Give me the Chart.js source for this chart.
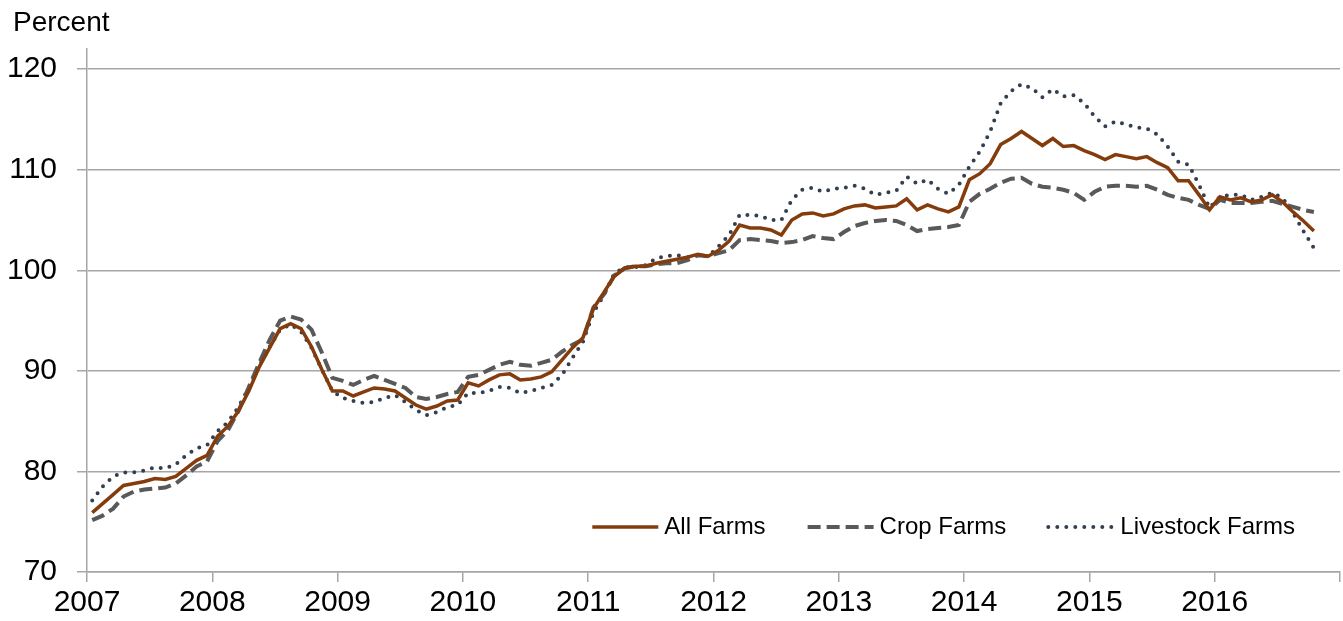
<!DOCTYPE html>
<html>
<head>
<meta charset="utf-8">
<script src="https://cdn.jsdelivr.net/npm/chart.js@4/dist/chart.umd.min.js"></script>
<style>
  html, body { margin: 0; padding: 0; background: #fff; }
  canvas { display: block; }
</style>
</head>
<body>
<canvas id="farmChart"></canvas>
<script>
// monthly series, Jan 2007 .. Oct 2016
const startYear = 2007;
const yearLabels = ['2007', '2008', '2009', '2010', '2011', '2012', '2013', '2014', '2015', '2016'];
const yTicks = [70, 80, 90, 100, 110, 120];
const seriesNames = ['All Farms', 'Crop Farms', 'Livestock Farms'];

const allFarms = [
    75.9, 76.8, 77.7, 78.6, 78.8, 79.0, 79.3, 79.2, 79.5, 80.3, 81.1, 81.6,
    83.5, 84.5, 86.0, 88.0, 90.4, 92.3, 94.2, 94.7, 94.2, 92.4, 90.1, 88.0,
    88.0, 87.5, 87.9, 88.3, 88.2, 88.0, 87.3, 86.6, 86.2, 86.5, 87.0, 87.1,
    88.8, 88.5, 89.1, 89.6, 89.7, 89.1, 89.2, 89.4, 89.9, 91.1, 92.3, 93.3,
    96.2, 97.8, 99.4, 100.2, 100.4, 100.4, 100.7, 100.9, 101.1, 101.3, 101.6, 101.4,
    102.0, 102.9, 104.5, 104.2, 104.2, 104.0, 103.5, 105.0, 105.6, 105.7, 105.4, 105.6,
    106.1, 106.4, 106.5, 106.2, 106.3, 106.4, 107.1, 106.0, 106.5, 106.1, 105.8, 106.3,
    109.0, 109.6, 110.6, 112.5, 113.1, 113.8, 113.1, 112.4, 113.1, 112.3, 112.4, 111.9,
    111.5, 111.0, 111.5, 111.3, 111.1, 111.3, 110.7, 110.2, 108.9, 108.9, 107.5, 106.0,
    107.3, 107.0, 107.2, 106.8, 107.0, 107.5, 106.8, 105.8, 104.9, 103.9
];

const cropFarms = [
    75.15, 75.6, 76.3, 77.5, 78.0, 78.2, 78.3, 78.4, 78.8, 79.6, 80.5, 81.0,
    83.0, 84.1, 86.0, 88.4, 90.8, 93.1, 95.0, 95.4, 95.1, 94.1, 91.8, 89.3,
    89.0, 88.6, 89.1, 89.5, 89.1, 88.7, 88.3, 87.4, 87.2, 87.4, 87.7, 87.9,
    89.4, 89.6, 90.1, 90.6, 90.9, 90.6, 90.5, 90.8, 91.1, 91.9, 92.6, 93.1,
    96.3, 97.6, 99.5, 100.2, 100.4, 100.4, 100.6, 100.7, 100.7, 101.0, 101.5, 101.4,
    101.7, 102.0, 103.0, 103.1, 103.0, 102.9, 102.7, 102.8, 103.0, 103.4, 103.2, 103.1,
    103.8, 104.4, 104.7, 104.9, 105.0, 104.9, 104.5, 103.9, 104.1, 104.2, 104.3, 104.5,
    106.8, 107.6, 108.1, 108.7, 109.1, 109.2, 108.6, 108.3, 108.2, 108.0, 107.7, 107.0,
    107.8, 108.3, 108.4, 108.4, 108.3, 108.4, 108.0, 107.5, 107.2, 107.0, 106.5, 106.1,
    107.0, 106.7, 106.7, 106.7, 106.8, 106.9, 106.6, 106.3, 106.0, 105.8
];

const livestockFarms = [
    77.1, 78.5, 79.5, 79.9, 79.9, 80.1, 80.4, 80.3, 80.7, 81.6, 82.3, 82.6,
    84.0, 84.9, 86.4, 88.3, 90.5, 92.4, 94.1, 94.6, 93.9, 92.3, 90.1, 88.0,
    87.3, 87.0, 86.8, 86.9, 87.3, 87.6, 86.9, 86.1, 85.6, 85.9, 86.4, 86.6,
    87.8, 87.8, 88.0, 88.4, 88.3, 87.8, 88.0, 88.3, 88.6, 89.6, 91.3, 92.9,
    95.8, 97.5, 99.7, 100.3, 100.3, 100.5, 101.2, 101.4, 101.5, 101.3, 101.5, 101.4,
    102.4, 103.5, 105.5, 105.5, 105.4, 105.0, 105.0, 107.0, 108.0, 108.2, 107.8, 108.1,
    108.2, 108.4, 108.1, 107.5, 107.7, 107.9, 109.3, 108.6, 109.0, 108.1, 107.6, 108.5,
    110.3, 111.8, 113.8, 116.6, 117.8, 118.5, 118.1, 117.2, 118.0, 117.3, 117.4, 116.6,
    115.3, 114.3, 114.8, 114.5, 114.2, 114.1, 113.5, 112.3, 110.8, 110.5, 108.5, 106.2,
    107.3, 107.5, 107.5, 107.0, 107.3, 107.7, 107.2, 105.7, 103.9, 102.2
];

const FONT = "'Liberation Sans', Arial, sans-serif";
const GRID = '#a6a6a6';

// month i sits in the middle of its month slot
function toPoints(values) {
    return values.map((v, i) => ({ x: startYear + (i + 0.5) / 12, y: v }));
}

const canvas = document.getElementById('farmChart');
canvas.width = 1343;
canvas.height = 621;
canvas.style.width = '1343px';
canvas.style.height = '621px';

// unit label above the axis + legend inside the plot, bottom right
const decorations = {
    id: 'decorations',
    afterDraw(chart) {
        const ctx = chart.ctx;
        const area = chart.chartArea;
        ctx.save();
        ctx.fillStyle = '#000';
        ctx.textBaseline = 'alphabetic';
        ctx.textAlign = 'left';
        ctx.font = '28px ' + FONT;
        ctx.fillText('Percent', 13, 31);

        ctx.font = '24px ' + FONT;
        const lineLen = 66, gap = 6, itemGap = 42;
        const widths = chart.data.datasets.map(ds => ctx.measureText(ds.label).width);
        let total = 0;
        widths.forEach((w, i) => { total += lineLen + gap + w + (i < widths.length - 1 ? itemGap : 0); });
        let x = area.right - 45 - total;
        const y = 527;
        chart.data.datasets.forEach((ds, i) => {
            ctx.beginPath();
            ctx.strokeStyle = ds.borderColor;
            ctx.lineWidth = ds.borderWidth;
            ctx.lineCap = ds.borderCapStyle || 'butt';
            ctx.setLineDash(ds.borderDash || []);
            ctx.moveTo(x, y);
            ctx.lineTo(x + lineLen, y);
            ctx.stroke();
            ctx.setLineDash([]);
            ctx.textBaseline = 'middle';
            ctx.fillText(ds.label, x + lineLen + gap, y);
            x += lineLen + gap + widths[i] + itemGap;
        });
        ctx.restore();
    }
};

new Chart(canvas.getContext('2d'), {
    type: 'line',
    data: {
        datasets: [
            {
                label: seriesNames[0],
                data: toPoints(allFarms),
                borderColor: '#843c0c',
                borderWidth: 3.5,
                pointRadius: 0,
                tension: 0
            },
            {
                label: seriesNames[1],
                data: toPoints(cropFarms),
                borderColor: '#595959',
                borderWidth: 4,
                borderDash: [13, 6],
                pointRadius: 0,
                tension: 0
            },
            {
                label: seriesNames[2],
                data: toPoints(livestockFarms),
                borderColor: '#333f50',
                borderWidth: 4,
                borderDash: [0, 9],
                borderCapStyle: 'round',
                pointRadius: 0,
                tension: 0
            }
        ]
    },
    options: {
        responsive: false,
        animation: false,
        layout: { padding: { top: 49, right: 0, left: 0, bottom: 0 } },
        plugins: {
            legend: { display: false },
            tooltip: { enabled: false }
        },
        scales: {
            x: {
                type: 'linear',
                min: startYear,
                max: startYear + yearLabels.length,
                afterFit(scale) { scale.height = 49; },
                grid: { drawOnChartArea: false, drawTicks: true, tickLength: 10, color: GRID, lineWidth: 1.5 },
                border: { color: GRID, width: 1.5 },
                ticks: {
                    stepSize: 1,
                    autoSkip: false,
                    maxRotation: 0,
                    padding: 3,
                    color: '#000',
                    font: { family: FONT, size: 30 },
                    callback: (v) => yearLabels[Math.round(v) - startYear] || ''
                }
            },
            y: {
                min: 70,
                max: 122,
                afterFit(scale) { scale.width = 87; },
                afterBuildTicks(scale) { scale.ticks = yTicks.map(v => ({ value: v })); },
                grid: { color: GRID, lineWidth: 1.5, tickLength: 10 },
                border: { color: GRID, width: 1.5 },
                ticks: {
                    padding: 20,
                    color: '#000',
                    font: { family: FONT, size: 30 }
                }
            }
        }
    },
    plugins: [decorations]
});
</script>
</body>
</html>
